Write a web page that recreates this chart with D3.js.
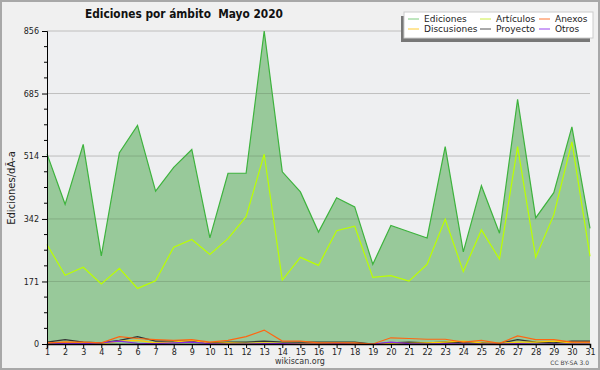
<!DOCTYPE html>
<html>
<head>
<meta charset="utf-8">
<script src="https://cdn.jsdelivr.net/npm/d3@7"></script>
<style>
  body { margin: 0; background: #f0f0f0; }
  text { font-family: "DejaVu Sans", sans-serif; }
</style>
</head>
<body>
<script>
// Days of the month
var days = d3.range(1, 32);

// Series values
var ediciones   = [520, 382, 546, 241, 523, 598, 418, 483, 532, 290, 467, 467, 856, 471, 416, 306, 400, 375, 218, 324, 307, 290, 540, 252, 433, 303, 669, 345, 414, 594, 316];
var articulos   = [272, 188, 210, 164, 207, 152, 173, 265, 286, 245, 288, 348, 519, 175, 237, 215, 310, 322, 182, 187, 172, 218, 341, 198, 312, 232, 540, 237, 353, 553, 240];
var anexos      = [3, 5, 5, 3, 20, 15, 12, 10, 12, 5, 10, 20, 38, 8, 8, 3, 3, 3, 0, 17, 15, 13, 13, 5, 10, 2, 22, 12, 12, 5, 5];
var discusiones = [2, 5, 3, 0, 8, 10, 3, 5, 10, 2, 3, 2, 3, 2, 1, 2, 2, 2, 0, 2, 2, 3, 5, 8, 3, 2, 5, 5, 8, 3, 3];
var proyecto    = [5, 12, 5, 3, 10, 20, 8, 8, 8, 3, 5, 5, 8, 5, 5, 5, 5, 5, 0, 3, 5, 3, 5, 3, 3, 2, 12, 5, 3, 8, 8];
var otros       = [0, 2, 1, 3, 8, 2, 1, 3, 5, 1, 0, 0, 1, 1, 0, 0, 1, 0, 0, 5, 1, 0, 1, 0, 0, 0, 1, 0, 0, 0, 0];

var yTicks = [0, 171, 342, 514, 685, 856];

var legendNames  = ["Ediciones", "Discusiones", "Artículos", "Proyecto", "Anexos", "Otros"];
var legendColors = ["#7fcc7f", "#ffcc33", "#ccee44", "#555555", "#ff7733", "#9944ee"];

// Width and height
var w = 600;
var h = 370;
var margin = {left: 47, right: 10, top: 31, bottom: 26};

var svg = d3.select("body")
      .append("svg")
      .attr("width", w)
      .attr("height", h);

// Background and frame
svg.append("rect")
   .attr("x", 1).attr("y", 1)
   .attr("width", w - 2).attr("height", h - 2)
   .attr("fill", "#f0f0f0")
   .attr("stroke", "#a8a8a8")
   .attr("stroke-width", 2);

var x = d3.scaleLinear()
      .domain([1, 31])
      .range([margin.left, w - margin.right]);

var y = d3.scaleLinear()
      .domain([0, 856])
      .range([h - margin.bottom, margin.top]);

// Plot background
svg.append("rect")
   .attr("x", x(1)).attr("y", y(856))
   .attr("width", x(31) - x(1)).attr("height", y(0) - y(856))
   .attr("fill", "#eeeff1");

// Grid lines
svg.selectAll("line.grid")
   .data(yTicks.slice(1))
   .enter()
   .append("line")
   .attr("class", "grid")
   .attr("x1", x(1)).attr("x2", x(31))
   .attr("y1", function(d) { return y(d); })
   .attr("y2", function(d) { return y(d); })
   .attr("stroke", "#c8c8c8")
   .attr("stroke-width", 1);

// Ediciones area
var area = d3.area()
      .x(function(d, i) { return x(days[i]); })
      .y0(y(0))
      .y1(function(d) { return y(d); });

svg.append("path")
   .datum(ediciones)
   .attr("d", area)
   .attr("fill", "#3a9e3a")
   .attr("fill-opacity", 0.48);

var line = d3.line()
      .x(function(d, i) { return x(days[i]); })
      .y(function(d) { return y(d); });

svg.append("path")
   .datum(ediciones)
   .attr("d", line)
   .attr("fill", "none")
   .attr("stroke", "#3db33d")
   .attr("stroke-width", 1.2);

// Grid lines show faintly through the area
svg.selectAll("line.grid2")
   .data(yTicks.slice(1))
   .enter()
   .append("line")
   .attr("x1", x(1)).attr("x2", x(31))
   .attr("y1", function(d) { return y(d); })
   .attr("y2", function(d) { return y(d); })
   .attr("stroke", "#888")
   .attr("stroke-opacity", 0.12);

var small = [
  {values: proyecto,    color: "#333333"},
  {values: discusiones, color: "#ffcc00"},
  {values: otros,       color: "#8a2be2"},
  {values: anexos,      color: "#ff6611"},
  {values: articulos,   color: "#bbff00"}
];

small.forEach(function(s) {
  svg.append("path")
     .datum(s.values)
     .attr("d", line)
     .attr("fill", "none")
     .attr("stroke", s.color)
     .attr("stroke-width", 1.2);
});

// Y axis
var yAxis = d3.axisLeft(y)
      .tickValues(yTicks)
      .tickSize(5)
      .tickFormat(d3.format("d"));

var yMinor = [];
for (var i = 0; i < yTicks.length - 1; i++) {
  for (var k = 1; k < 4; k++) {
    yMinor.push(yTicks[i] + (yTicks[i + 1] - yTicks[i]) * k / 4);
  }
}

var gy = svg.append("g")
      .attr("transform", "translate(" + x(1) + ",0)")
      .call(yAxis);
gy.select(".domain").attr("stroke", "#000");
gy.selectAll("text").attr("font-size", 8).attr("fill", "#222").attr("font-family", "DejaVu Sans, sans-serif");

gy.selectAll("line.minor")
  .data(yMinor)
  .enter()
  .append("line")
  .attr("x1", -3).attr("x2", 0)
  .attr("y1", function(d) { return y(d); })
  .attr("y2", function(d) { return y(d); })
  .attr("stroke", "#000");

// X axis
var xAxis = d3.axisBottom(x)
      .tickValues(days)
      .tickSize(4)
      .tickPadding(1)
      .tickFormat(d3.format("d"));

var gx = svg.append("g")
      .attr("transform", "translate(0," + y(0) + ")")
      .call(xAxis);
gx.select(".domain").attr("stroke", "#000").attr("stroke-width", 1.5);
gx.selectAll("text").attr("font-size", 8).attr("fill", "#222").attr("font-family", "DejaVu Sans, sans-serif");

// Title
svg.append("text")
   .attr("x", 184).attr("y", 18)
   .attr("text-anchor", "middle")
   .attr("font-size", 13)
   .attr("font-weight", "bold")
   .attr("font-family", "'DejaVu Sans Condensed', 'DejaVu Sans', sans-serif")
   .attr("font-stretch", "condensed")
   .attr("textLength", 198)
   .attr("lengthAdjust", "spacingAndGlyphs")
   .attr("fill", "#111")
   .attr("xml:space", "preserve")
   .text("Ediciones por ámbito  Mayo 2020");

// Y axis label
svg.append("text")
   .attr("transform", "translate(15,188) rotate(-90)")
   .attr("text-anchor", "middle")
   .attr("font-size", 10)
   .attr("fill", "#222")
   .text("Ediciones/dÃ-a");

// Footer
svg.append("text")
   .attr("x", 300).attr("y", 364)
   .attr("text-anchor", "middle")
   .attr("font-size", 8)
   .attr("fill", "#333")
   .text("wikiscan.org");

svg.append("text")
   .attr("x", 589).attr("y", 365)
   .attr("text-anchor", "end")
   .attr("font-size", 6)
   .attr("fill", "#444")
   .text("CC BY-SA 3.0");

// Legend
var lg = svg.append("g");
lg.append("rect")
  .attr("x", 401).attr("y", 16)
  .attr("width", 189).attr("height", 26)
  .attr("fill", "#777");
lg.append("rect")
  .attr("x", 404).attr("y", 12)
  .attr("width", 189).attr("height", 26)
  .attr("fill", "#fff")
  .attr("stroke", "#ccc");

var colX = [408, 480, 539];
var rowY = [19, 29];

legendNames.forEach(function(name, i) {
  var cx = colX[Math.floor(i / 2)];
  var cy = rowY[i % 2];
  lg.append("line")
    .attr("x1", cx).attr("x2", cx + 11)
    .attr("y1", cy).attr("y2", cy)
    .attr("stroke", legendColors[i]);
  lg.append("text")
    .attr("x", cx + 16).attr("y", cy + 3)
    .attr("font-size", 9)
    .attr("fill", "#222")
    .text(name);
});
</script>
</body>
</html>
